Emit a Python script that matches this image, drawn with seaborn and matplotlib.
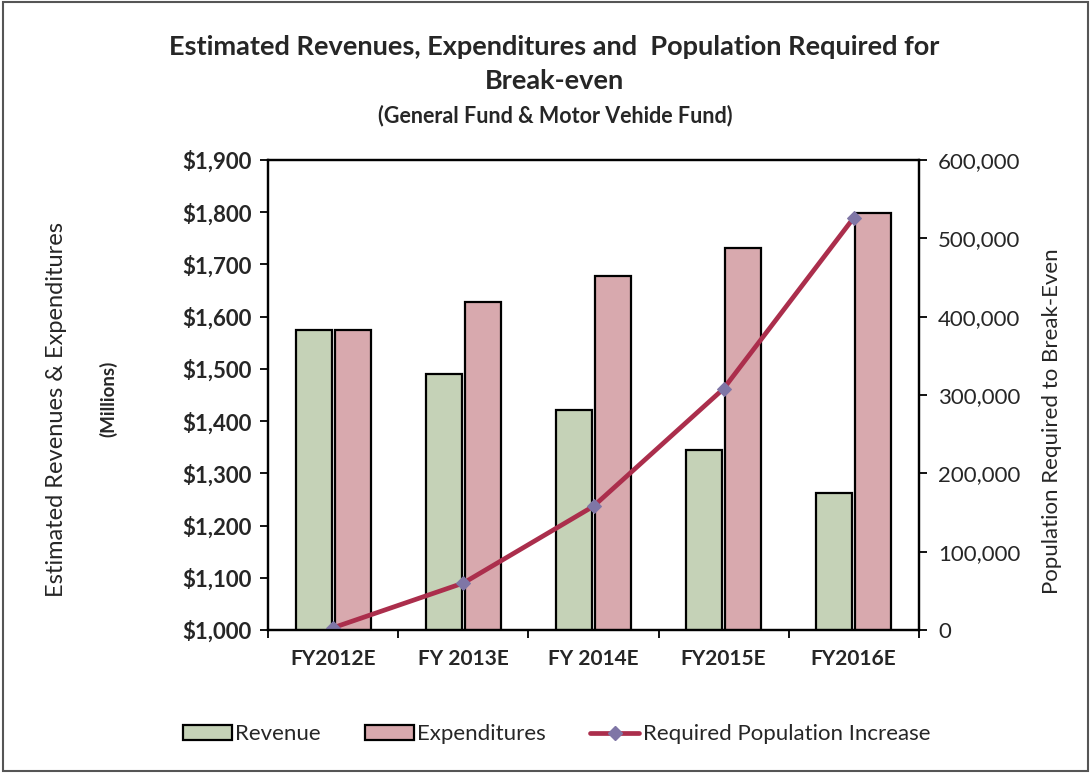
import numpy as np
import pandas as pd
import matplotlib
matplotlib.use("Agg")
import matplotlib.pyplot as plt
import seaborn as sns
from matplotlib.ticker import FuncFormatter, FixedLocator
from matplotlib.patches import Patch, Rectangle
from matplotlib.lines import Line2D

# ---- data ----
categories = ["FY2012E", "FY 2013E", "FY 2014E", "FY2015E", "FY2016E"]
revenue = [1574, 1491, 1422, 1344, 1263]
expenditures = [1574, 1628, 1677, 1731, 1798]
population = [3000, 60000, 158000, 308000, 526000]
left_ticks = [1000, 1100, 1200, 1300, 1400, 1500, 1600, 1700, 1800, 1900]
right_ticks = [0, 100000, 200000, 300000, 400000, 500000, 600000]
series_names = ["Revenue", "Expenditures"]
line_name = "Required Population Increase"

green = "#c5d2b7"
pink = "#d8a9ae"
line_col = "#ab2e4c"
marker_col = "#7f76a6"

sns.set_theme(style="white")
plt.rcParams['font.family'] = ['Lato', 'DejaVu Sans']

fig = plt.figure(figsize=(10.91, 7.73), dpi=100)
ax = fig.add_axes([0.246, 0.185, 0.596, 0.608])

df = pd.DataFrame({
    "category": categories * 2,
    "series": [series_names[0]] * len(categories) + [series_names[1]] * len(categories),
    "value": revenue + expenditures,
})
sns.barplot(data=df, x="category", y="value", hue="series",
            palette=[green, pink], width=0.6, gap=0.08,
            edgecolor="black", linewidth=1.6, saturation=1,
            ax=ax, legend=False)

ax.set_ylim(left_ticks[0], left_ticks[-1])
ax.set_xlim(-0.5, len(categories) - 0.5)
ax.yaxis.set_major_locator(FixedLocator(left_ticks))
ax.yaxis.set_major_formatter(FuncFormatter(lambda v, p: f"${v:,.0f}"))
ax.set_xlabel("")
ax.set_ylabel("")
ax.set_xticks(range(len(categories)))
ax.set_xticklabels(categories, fontsize=15, fontweight="bold")
ax.set_xticks(np.arange(-0.5, len(categories), 1.0), minor=True)
ax.tick_params(axis="x", which="major", length=0, pad=14)
ax.tick_params(axis="x", which="minor", length=6, width=1.3, direction="out", color="black", bottom=True)
ax.tick_params(axis="y", which="major", length=6, width=1.3, direction="out", color="black",
               labelsize=16, left=True, pad=6)
for lab in ax.get_yticklabels():
    lab.set_fontweight("bold")
for s in ax.spines.values():
    s.set_color("black")
    s.set_linewidth(1.6)

ax2 = ax.twinx()
sns.lineplot(x=np.arange(len(categories)), y=population, ax=ax2,
             color=line_col, linewidth=3.4, marker="D", markersize=7,
             markerfacecolor=marker_col, markeredgecolor=marker_col)
ax2.set_ylim(right_ticks[0], right_ticks[-1])
ax2.yaxis.set_major_locator(FixedLocator(right_ticks))
ax2.yaxis.set_major_formatter(FuncFormatter(lambda v, p: f"{v:,.0f}"))
ax2.tick_params(axis="y", length=6, width=1.3, direction="out", color="black",
                labelsize=16, right=True, pad=8)
ax2.set_ylabel("")
for s in ax2.spines.values():
    s.set_color("black")
    s.set_linewidth(1.6)

# titles and axis titles
fig.text(0.508, 0.939, "Estimated Revenues, Expenditures and  Population Required for",
         ha="center", va="center", fontsize=19.5, fontweight="bold")
fig.text(0.508, 0.895, "Break-even", ha="center", va="center", fontsize=19.5, fontweight="bold")
fig.text(0.509, 0.851, "(General Fund & Motor Vehide Fund)", ha="center", va="center",
         fontsize=15.5, fontweight="bold")
fig.text(0.052, 0.47, "Estimated Revenues & Expenditures", rotation=90,
         ha="center", va="center", fontsize=17)
fig.text(0.099, 0.484, "(Millions)", rotation=90, ha="center", va="center", fontsize=13.5,
         fontweight="bold")
fig.text(0.964, 0.455, "Population Required to Break-Even", rotation=90,
         ha="center", va="center", fontsize=16)

handles = [
    Patch(facecolor=green, edgecolor="black", linewidth=1.6, label=series_names[0]),
    Patch(facecolor=pink, edgecolor="black", linewidth=1.6, label=series_names[1]),
    Line2D([0], [0], color=line_col, linewidth=3.4, marker="D", markersize=7,
           markerfacecolor=marker_col, markeredgecolor=marker_col, label=line_name),
]
fig.legend(handles=handles, loc="center", bbox_to_anchor=(0.51, 0.05), ncol=3,
           frameon=False, fontsize=16, handlelength=2.2, handletextpad=0.15,
           columnspacing=2.0)

fig.patches.append(Rectangle((0.003, 0.003), 0.994, 0.994, transform=fig.transFigure,
                             fill=False, edgecolor="#555555", linewidth=1.5))

fig.savefig("out.png", dpi=100)
